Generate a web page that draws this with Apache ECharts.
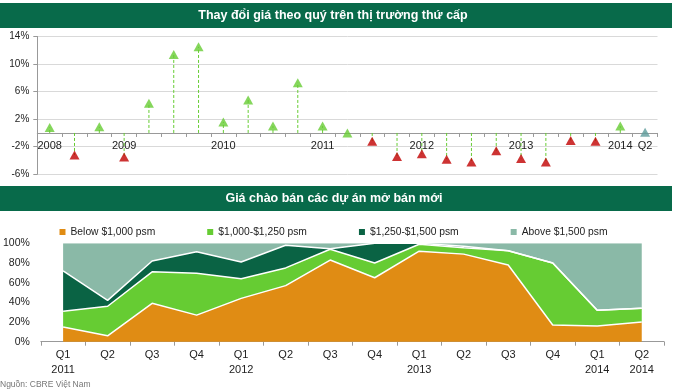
<!DOCTYPE html>
<html><head><meta charset="utf-8">
<script src="https://cdn.jsdelivr.net/npm/echarts@6/dist/echarts.min.js"></script>
<style>html,body{margin:0;padding:0;background:#fff}#c{width:676px;height:391px}</style>
</head><body><div id="c"></div>
<script>
// ---- data ----
const topTitle = 'Thay đổi giá theo quý trên thị trường thứ cấp';
const bottomTitle = 'Giá chào bán các dự án mở bán mới';
const sourceNote = 'Nguồn: CBRE Việt Nam';

// quarterly price change, 2008 Q2 .. 2014 Q2 (%)
const quarterLabels = ['2008','','','2009','','','','2010','','','','2011','','','','2012','','','','2013','','','','2014','Q2'];
const priceChange = [0.8,-3.2,0.9,-3.5,4.3,11.4,12.5,1.6,4.8,1.0,7.3,1.0,0.0,-1.2,-3.4,-3.0,-3.8,-4.2,-2.6,-3.7,-4.2,-1.1,-1.2,1.0,0.1];
const topMin = -6, topMax = 14, topStep = 4;

// new launch price mix, Q1 2011 .. Q2 2014 (%)
const periodLabels = ['Q1\n2011','Q2','Q3','Q4','Q1\n2012','Q2','Q3','Q4','Q1\n2013','Q2','Q3','Q4','Q1\n2014','Q2\n2014'];
const seriesNames = ['Below $1,000 psm','$1,000-$1,250 psm','$1,250-$1,500 psm','Above $1,500 psm'];
const below1000   = [15, 6, 39, 27, 44, 57, 83, 65, 92, 89, 78, 17, 16, 20];
const from1000    = [16, 30, 32, 42.5, 20, 18, 11, 15, 7, 6.5, 14.5, 63, 16, 14];
const from1250    = [41, 6, 11, 22, 17, 23, 0.5, 20, 1, 1.5, 0, 0, 0, 0];
const above1500   = [28, 58, 18, 8.5, 19, 2, 5.5, 0, 0, 3, 7.5, 20, 68, 66];

// ---- chart ----
const FONT = '"Liberation Sans", Arial, sans-serif';
const GREEN = '#66cc33', RED = '#c00000', LAST = '#5f9c9c';
const areaColors = ['#e08c14', '#66cc33', '#0a6344', '#8ab9a7'];
const areaValues = [below1000, from1000, from1250, above1500];

const H = 391;
const topGrid = {left: 37.3, right: 18.5, top: 36.5, bottom: 216.7};
const topGridHeight = H - topGrid.top - topGrid.bottom;
// move the category axis from the bottom edge up to the zero line
const zeroOffset = -topGridHeight * (0 - topMin) / (topMax - topMin);

const chart = echarts.init(document.getElementById('c'), null, {renderer: 'canvas'});
const lastIdx = priceChange.length - 1;

const option = {
  animation: false,
  textStyle: {fontFamily: FONT},
  graphic: [
    {type: 'rect', shape: {x: 0, y: 3, width: 672, height: 25}, style: {fill: '#086a4a'}},
    {type: 'text', x: 333, y: 15.5, style: {text: topTitle, fill: '#fff', font: 'bold 12.5px ' + FONT, align: 'center', verticalAlign: 'middle'}},
    {type: 'rect', shape: {x: 0, y: 186, width: 672, height: 25}, style: {fill: '#086a4a'}},
    {type: 'text', x: 334, y: 198.5, style: {text: bottomTitle, fill: '#fff', font: 'bold 12.5px ' + FONT, align: 'center', verticalAlign: 'middle'}},
    {type: 'text', x: 0, y: 384.5, style: {text: sourceNote, fill: '#777', font: '8.5px ' + FONT, align: 'left', verticalAlign: 'middle'}}
  ],
  legend: {
    top: 222, left: 54.5, itemWidth: 6, itemHeight: 6, itemGap: 52, icon: 'rect',
    textStyle: {fontSize: 10.3, color: '#222', fontFamily: FONT},
    data: seriesNames
  },
  grid: [
    topGrid,
    {left: 40.7, right: 12, top: 243.3, bottom: 49.3}
  ],
  xAxis: [
    {
      gridIndex: 0, type: 'category', data: quarterLabels, boundaryGap: true,
      position: 'bottom', offset: zeroOffset,
      axisLine: {onZero: false, lineStyle: {color: '#999', width: 1}},
      axisTick: {show: true, length: 4, interval: 0, lineStyle: {color: '#999'}},
      axisLabel: {interval: 0, fontSize: 11, color: '#222', margin: 8, hideOverlap: false},
      splitLine: {show: false}
    },
    {
      gridIndex: 1, type: 'category', data: periodLabels, boundaryGap: true,
      axisLine: {lineStyle: {color: '#999', width: 1}},
      axisTick: {show: true, length: 4, interval: 0, lineStyle: {color: '#999'}},
      axisLabel: {interval: 0, fontSize: 11, color: '#222', margin: 6, lineHeight: 15}
    }
  ],
  yAxis: [
    {
      gridIndex: 0, type: 'value', min: topMin, max: topMax, interval: topStep,
      axisLine: {show: true, lineStyle: {color: '#999'}},
      axisTick: {show: true, length: 4, lineStyle: {color: '#999'}},
      axisLabel: {fontSize: 10, color: '#222', margin: 8, formatter: '{value}%'},
      splitLine: {show: true, lineStyle: {color: '#d9d9d9'}}
    },
    {
      gridIndex: 1, type: 'value', min: 0, max: 100, interval: 20,
      axisLine: {show: false}, axisTick: {show: false},
      axisLabel: {fontSize: 10.5, color: '#222', margin: 11, formatter: '{value}%'},
      splitLine: {show: false}
    }
  ],
  series: [
    {
      type: 'custom', xAxisIndex: 0, yAxisIndex: 0, z: 2,
      data: priceChange.map((v, i) => [i, v]),
      renderItem: function (params, api) {
        const p0 = api.coord([api.value(0), 0]);
        const p1 = api.coord([api.value(0), api.value(1)]);
        return {type: 'line', shape: {x1: p0[0], y1: p0[1], x2: p1[0], y2: p1[1]},
          style: {stroke: GREEN, lineWidth: 1, lineDash: [3, 2]}};
      }
    },
    {
      type: 'scatter', xAxisIndex: 0, yAxisIndex: 0, z: 5,
      symbol: 'triangle', symbolSize: [10, 9],
      data: priceChange.map((v, i) => ({
        value: v,
        itemStyle: {color: i === lastIdx ? LAST : (v >= 0 ? GREEN : RED)}
      }))
    },
    ...areaValues.map((vals, k) => ({
      name: seriesNames[k], type: 'line', xAxisIndex: 1, yAxisIndex: 1,
      stack: 'mix', symbol: 'none', smooth: false,
      itemStyle: {color: areaColors[k]},
      lineStyle: {color: '#fff', width: k === 3 ? 0 : 1.5},
      areaStyle: {color: areaColors[k], opacity: 1},
      data: vals,
      z: 2
    }))
  ]
};
chart.setOption(option);
</script>
</body></html>
